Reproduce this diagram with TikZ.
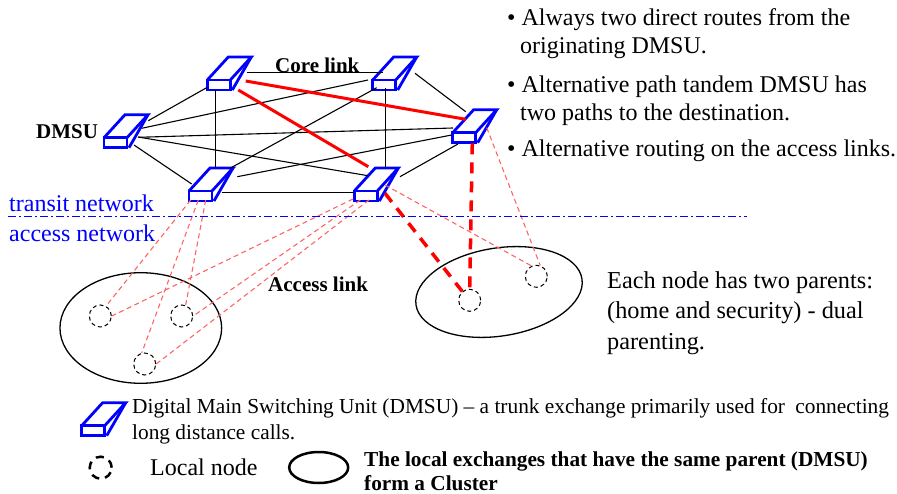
\documentclass[tikz,border=0pt]{standalone}
\usepackage{fontspec}
\setmainfont{Liberation Serif}
\tikzset{
    dmsubox/.style={inner sep=0pt, minimum width=44pt, minimum height=33pt},
    dmsuline/.style={draw=blue, line width=2.8pt, line join=miter},
    corelink/.style={black, line width=1.1pt},
    redlink/.style={red, line width=3pt},
    reddash/.style={red, line width=3.5pt, dash pattern=on 11pt off 8pt},
    accesslink/.style={draw={rgb,255:red,255;green,100;blue,100}, line width=1.1pt, dash pattern=on 5pt off 3.5pt},
    localnode/.style={circle, draw, line width=1pt, dash pattern=on 4pt off 3pt, minimum size=22pt, inner sep=0pt},
    cluster/.style={ellipse, draw, line width=1.3pt, inner sep=0pt},
    body/.style={font=\fontsize{24}{28}\selectfont, align=left, inner sep=0pt},
    netlabel/.style={font=\fontsize{24}{27}\selectfont, text=blue, inner sep=0pt},
    boldlabel/.style={font=\fontsize{21}{24}\selectfont\bfseries, align=left, inner sep=0pt}
}
\usetikzlibrary{shapes.geometric}
\newcommand{\dmsuicon}[3]{
    \node[dmsubox] (#1) at (#2,#3) {};
    \draw[dmsuline, shift={(#1.center)}] (-22,6.5) rectangle (1,16.5);
    \draw[dmsuline, shift={(#1.center)}] (-22,6.5) -- (-1,-16.5) -- (22,-16.5) -- (1,6.5);
    \draw[dmsuline, shift={(#1.center)}] (22,-16.5) -- (3,16.5);
}
\begin{document}
\begin{tikzpicture}[x=1pt, y=-1pt]
    \useasboundingbox (0,0) rectangle (897,494);
    \dmsuicon{L}{126}{131.2}
    \dmsuicon{A}{229.3}{73.5}
    \dmsuicon{B}{394.7}{73.5}
    \dmsuicon{C}{474.7}{126.2}
    \dmsuicon{D}{211}{184.5}
    \dmsuicon{E}{376.3}{184.5}
    \draw[corelink] ([shift={(22.3,-10.5)}]L.center) -- ([shift={(-22,13.8)}]A.center);
    \draw[corelink] ([shift={(15.7,-2.9)}]L.center) -- ([shift={(-26.7,6.5)}]B.center);
    \draw[corelink] ([shift={(12.3,6.1)}]L.center) -- ([shift={(-21.7,1.8)}]C.center);
    \draw[corelink] ([shift={(12,5.8)}]L.center) -- ([shift={(-8.3,-8.8)}]E.center);
    \draw[corelink] ([shift={(8,13.8)}]L.center) -- ([shift={(-19.3,-0.5)}]D.center);
    \draw[corelink] ([shift={(-13.8,16.5)}]A.center) -- ([shift={(4.5,-17.5)}]D.center);
    \draw[corelink] ([shift={(17.4,-1)}]A.center) -- ([shift={(-11.7,-1)}]B.center);
    \draw[corelink] ([shift={(20.3,-0.2)}]B.center) -- ([shift={(-9,-14.5)}]C.center);
    \draw[corelink] ([shift={(-18,14.2)}]B.center) -- ([shift={(19,-16.2)}]D.center);
    \draw[corelink] ([shift={(-9.2,14.5)}]B.center) -- ([shift={(9.2,-17.5)}]E.center);
    \draw[corelink] ([shift={(-23,8.8)}]C.center) -- ([shift={(26.3,-7.8)}]D.center);
    \draw[corelink] ([shift={(-16.7,17.8)}]C.center) -- ([shift={(23.7,-7.8)}]E.center);
    \draw[corelink] ([shift={(10.7,8)}]D.center) -- ([shift={(-22,8)}]E.center);
    \draw[redlink] ([shift={(16.4,7.5)}]A.center) -- ([shift={(-9,-6.9)}]C.center);
    \draw[redlink] ([shift={(9,16.5)}]A.center) -- ([shift={(-8,-17.8)}]E.center);
    \node[cluster, minimum width=161.7pt, minimum height=110.6pt] (leftcluster) at (140.8,328) {};
    \node[cluster, minimum width=168pt, minimum height=88pt, rotate=9] (rightcluster) at (499,292) {};
    \node[localnode] (n1) at (100.3,316) {};
    \node[localnode] (n2) at (181.7,316) {};
    \node[localnode] (n3) at (144.7,364) {};
    \node[localnode] (n4) at (469.7,300.3) {};
    \node[localnode] (n5) at (536.3,276.3) {};
    \draw[accesslink] ([shift={(-20.3,15.5)}]D.center) -- (n1.60);
    \draw[accesslink] ([shift={(-12.7,15.5)}]D.center) -- (n3.105);
    \draw[accesslink] ([shift={(-5.3,15.5)}]D.center) -- (n2.70);
    \draw[accesslink] ([shift={(-23.3,14.5)}]E.center) -- (n1.east);
    \draw[accesslink] ([shift={(-16,15.5)}]E.center) -- (n2.east);
    \draw[accesslink] ([shift={(-7.3,15.5)}]E.center) -- (n3.east);
    \draw[accesslink] ([shift={(8.7,0.5)}]E.center) -- (n5.115);
    \draw[accesslink] ([shift={(12,1.5)}]C.center) -- (n5.70);
    \draw[reddash] ([shift={(8.7,8.8)}]E.center) -- (n4.130);
    \draw[reddash] ([shift={(-2.4,17.1)}]C.center) -- (n4.north);
    \coordinate (linestart) at (8,216.5);
    \coordinate (lineend) at (747,216.5);
    \draw[blue, line width=1.2pt, dash pattern=on 8pt off 3pt on 2pt off 3pt] (linestart) -- (lineend);
    \node[netlabel, anchor=base west] (transit) at (9,212) {transit network};
    \node[netlabel, anchor=base west] (access) at (9,242) {access network};
    \node[boldlabel, anchor=west] (corelabel) at (275,65) {Core link};
    \node[boldlabel, anchor=west] (dmsulabel) at (36,132) {DMSU};
    \node[boldlabel, anchor=west] (accesslabel) at (268,284) {Access link};
    \node[body, anchor=north west] (bullet1) at (507,8) {• Always two direct routes from the\\\hspace*{13pt}originating DMSU.};
    \node[body, anchor=north west] (bullet2) at (507,76) {• Alternative path tandem DMSU has\\\hspace*{13pt}two paths to the destination.};
    \node[body, anchor=north west] (bullet3) at (507,140) {• Alternative routing on the access links.};
    \node[body, anchor=north west, font=\fontsize{24.3}{30.5}\selectfont] (parents) at (607,271) {Each node has two parents:\\(home and security) - dual\\parenting.};
    \dmsuicon{K}{103.7}{419.2}
    \node[body, anchor=north west, font=\fontsize{21.35}{26}\selectfont] (legend1) at (132,398) {Digital Main Switching Unit (DMSU) – a trunk exchange primarily used for\hspace{5pt} connecting\\long distance calls.};
    \node[localnode, line width=2.5pt, dash pattern=on 8pt off 6pt] (legendnode) at (100.7,467.7) {};
    \node[body, anchor=west] (legend2) at (150,467) {Local node};
    \node[cluster, line width=2.5pt, minimum width=59pt, minimum height=31pt] (legendcluster) at (318.7,467.5) {};
    \node[boldlabel, anchor=north west, font=\fontsize{21.3}{24}\selectfont\bfseries] (legend3) at (364,452) {The local exchanges that have the same parent (DMSU)\\form a Cluster};
\end{tikzpicture}
\end{document}
